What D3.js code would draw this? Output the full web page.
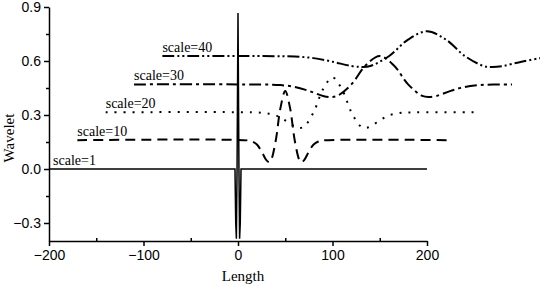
<!DOCTYPE html>
<html>
<head>
<meta charset="utf-8">
<script src="https://cdn.jsdelivr.net/npm/d3@7"></script>
<style>
  body { margin: 0; background: #fff; }
  .tick text { font-family: "Liberation Sans", Arial, sans-serif; font-size: 14px; fill: #000; }
  .lbl { font-family: "Liberation Serif", "Times New Roman", serif; font-size: 14px; }
</style>
</head>
<body>
<svg id="chart" width="540" height="288"></svg>
<script>
// curve points: [length, wavelet]
const scale1 = [[-200, 0], [-3.2, 0], [-2.4, -0.3], [-1.7, -0.387], [-1, 0], [0, 0.867],
  [1, 0], [1.7, -0.387], [2.4, -0.3], [3.2, 0], [200, 0]];
const scale10 = [[-170, 0.16], [10, 0.159], [15, 0.153], [20, 0.136], [25, 0.097], [30, 0.049],
  [33, 0.038], [35, 0.049], [40, 0.16], [45, 0.341], [50, 0.434], [55, 0.341], [60, 0.16],
  [65, 0.049], [67, 0.038], [70, 0.049], [75, 0.097], [80, 0.136], [85, 0.153], [90, 0.159], [225, 0.16]];
const scale20 = [[-140, 0.315], [20, 0.314], [30, 0.31], [40, 0.298], [50, 0.27], [60, 0.236],
  [65, 0.228], [70, 0.236], [80, 0.315], [90, 0.443], [100, 0.509], [110, 0.443], [120, 0.315],
  [130, 0.236], [135, 0.228], [140, 0.236], [150, 0.27], [160, 0.298], [170, 0.31], [180, 0.314], [256, 0.315]];
const scale30 = [[-110, 0.47], [30, 0.469], [45, 0.466], [60, 0.456], [75, 0.434], [90, 0.406],
  [98, 0.4], [105, 0.406], [120, 0.47], [135, 0.575], [150, 0.628], [165, 0.575], [180, 0.47],
  [195, 0.406], [202, 0.4], [210, 0.406], [225, 0.434], [240, 0.456], [255, 0.466], [270, 0.469], [290, 0.47]];
const scale40 = [[-80, 0.628], [40, 0.627], [60, 0.625], [80, 0.616], [100, 0.596], [120, 0.572],
  [131, 0.567], [140, 0.572], [160, 0.628], [180, 0.719], [200, 0.765], [220, 0.719], [240, 0.628],
  [260, 0.572], [269, 0.567], [280, 0.572], [300, 0.596], [320, 0.616]];

const seriesNames = ["scale=1", "scale=10", "scale=20", "scale=30", "scale=40"];
const seriesData = [scale1, scale10, scale20, scale30, scale40];
const dashes = [null, "10,6", "2,7", "12,4,3,4", "12,3,2,3,2,3"];

const xMajor = [-200, -100, 0, 100, 200];
const xMinor = [-150, -50, 50, 150];
const yMajor = [-0.3, 0, 0.3, 0.6, 0.9];
const yMinor = [-0.15, 0.15, 0.45, 0.75];

const svg = d3.select("#chart");
const x = d3.scaleLinear().domain([-200, 200]).range([49, 427]);
const y = d3.scaleLinear().domain([-0.4, 0.9]).range([241, 7]);

const line = d3.line()
  .x(d => x(d[0]))
  .y(d => y(d[1]));

seriesData.forEach((pts, i) => {
  svg.append("path")
    .datum(pts)
    .attr("d", line.curve(i === 0 ? d3.curveLinear : d3.curveCatmullRom)(pts))
    .attr("fill", "none")
    .attr("stroke", "#000")
    .attr("stroke-width", i === 0 ? 1.5 : 2)
    .attr("stroke-dasharray", dashes[i]);
  svg.append("text")
    .attr("class", "lbl")
    .attr("x", x(pts[0][0]) + (i === 0 ? 4 : 0))
    .attr("y", y(pts[0][1]) - 4)
    .text(seriesNames[i]);
});

// axes
svg.append("g").attr("transform", "translate(49,0)")
  .call(d3.axisLeft(y).tickValues(yMajor).tickFormat(d3.format(".1f"))
    .tickSize(5).tickSizeOuter(0).tickPadding(3));
svg.append("g").attr("transform", "translate(49,0)")
  .call(d3.axisLeft(y).tickValues(yMinor).tickFormat("").tickSize(3).tickSizeOuter(0))
  .select(".domain").remove();

svg.append("g").attr("transform", "translate(0,241)")
  .call(d3.axisBottom(x).tickValues(xMajor).tickSize(5).tickSizeOuter(0).tickPadding(4));
svg.append("g").attr("transform", "translate(0,241)")
  .call(d3.axisBottom(x).tickValues(xMinor).tickFormat("").tickSize(-3).tickSizeOuter(0))
  .select(".domain").remove();

svg.selectAll(".domain, .tick line").attr("stroke", "#000").attr("stroke-width", 1.5);

svg.append("text")
  .attr("class", "lbl")
  .attr("x", 243).attr("y", 281)
  .attr("text-anchor", "middle")
  .style("font-size", "15px")
  .text("Length");

svg.append("text")
  .attr("class", "lbl")
  .attr("transform", "translate(14,138) rotate(-90)")
  .attr("text-anchor", "middle")
  .style("font-size", "15px")
  .text("Wavelet");
</script>
</body>
</html>
